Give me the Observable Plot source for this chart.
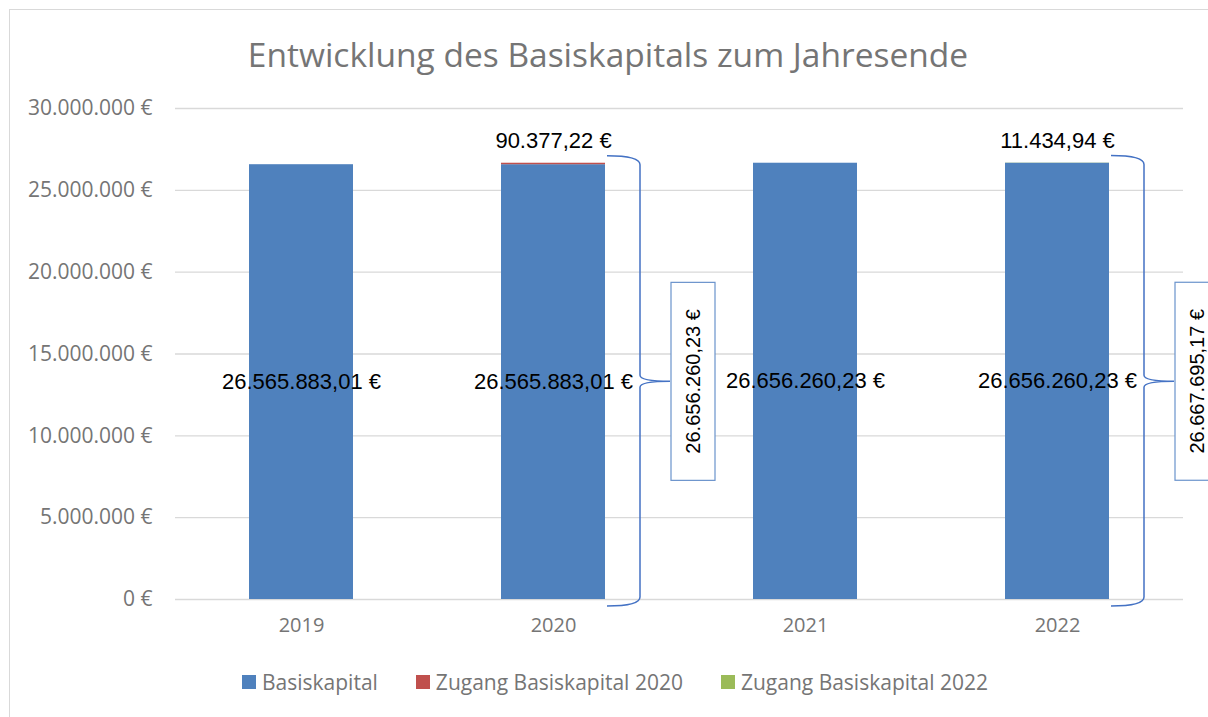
<!DOCTYPE html>
<html><head><meta charset="utf-8">
<script src="https://cdn.jsdelivr.net/npm/d3@7"></script>
<script src="https://cdn.jsdelivr.net/npm/@observablehq/plot@0.6"></script>
<style>
html,body{margin:0;padding:0;background:#fff;}
#wrap{position:relative;width:1208px;height:717px;overflow:hidden;font-family:"Open Sans",sans-serif;}
#frame{position:absolute;left:9px;top:9px;width:1400px;height:900px;border:1.5px solid #d9d9d9;box-sizing:border-box;}
#title{position:absolute;left:0;top:0;width:1208px;height:80px;display:flex;align-items:center;justify-content:center;padding-top:28px;padding-left:8px;box-sizing:border-box;font-size:33.5px;color:#757575;}
#chart{position:absolute;left:0;top:80px;}
#legend{position:absolute;left:0;top:640px;width:1208px;height:88px;display:flex;justify-content:center;align-items:flex-start;padding-top:28px;box-sizing:border-box;padding-left:22px;font-size:21px;color:#757575;}
.li{display:flex;align-items:center;margin:0 19px;}
.sw{width:14px;height:14px;margin-right:6px;}
</style></head>
<body><div id="wrap"><div id="frame"></div><div id="title"></div><div id="chart"></div><div id="legend"></div></div>
<script>
const title = "Entwicklung des Basiskapitals zum Jahresende";
const years = ["2019", "2020", "2021", "2022"];
const seriesNames = ["Basiskapital", "Zugang Basiskapital 2020", "Zugang Basiskapital 2022"];
const seriesColors = ["#4F81BD", "#C0504D", "#9BBB59"];
const basiskapital = [26565883.01, 26565883.01, 26656260.23, 26656260.23];
const zugang2020 = [0, 90377.22, 0, 0];
const zugang2022 = [0, 0, 0, 11434.94];
const yTicks = [0, 5000000, 10000000, 15000000, 20000000, 25000000, 30000000];
const braceYears = ["2020", "2022"];
const braceTotals = [26656260.23, 26667695.17];

const loc = d3.formatLocale({decimal: ",", thousands: ".", grouping: [3], currency: ["", " €"]});
const fInt = v => loc.format(",.0f")(v) + " €";
const f2 = v => loc.format(",.2f")(v) + " €";

document.getElementById("title").textContent = title;

const rows = [];
const seriesVals = [basiskapital, zugang2020, zugang2022];
years.forEach((yr, i) => {
  seriesNames.forEach((s, j) => rows.push({year: yr, series: s, value: seriesVals[j][i]}));
});
const baseRows = rows.filter(d => d.series === "Basiskapital");
const addRows = years.map((yr, i) => ({year: yr, add: zugang2020[i] + zugang2022[i], total: basiskapital[i] + zugang2020[i] + zugang2022[i]})).filter(d => d.add > 0);
const braces = braceYears.map((yr, i) => ({year: yr, total: braceTotals[i]}));

function braceMark(index, scales, values, dimensions) {
  const x = scales.x, y = scales.y;
  const bw = x.bandwidth ? x.bandwidth() : scales.scales.x.bandwidth;
  const g = d3.create("svg:g");
  for (const b of braces) {
    const x0 = x(b.year) + bw + 2, x1 = x0 + 33, x2 = x1 + 30;
    const y0 = y(b.total) - 7, y1 = y(0) + 7, ym = (y(b.total) + y(0)) / 2 + 0.5;
    const r = 9, r2 = 6;
    const p = `M${x0},${y0} Q${x1},${y0} ${x1},${y0 + r} L${x1},${ym - r2} Q${x1},${ym} ${x2},${ym} Q${x1},${ym} ${x1},${ym + r2} L${x1},${y1 - r} Q${x1},${y1} ${x0},${y1}`;
    g.append("path").attr("d", p).attr("fill", "none").attr("stroke", "#4472C4").attr("stroke-width", 1.5);
    const bx = x2 + 1, bwid = 44, bh = 198;
    g.append("rect").attr("x", bx).attr("y", ym - bh / 2).attr("width", bwid).attr("height", bh)
      .attr("fill", "#fff").attr("stroke", "#6a93cc").attr("stroke-width", 1.2);
    g.append("text").attr("transform", `translate(${bx + bwid / 2},${ym}) rotate(-90)`)
      .attr("text-anchor", "middle").attr("dominant-baseline", "central")
      .attr("font-family", "Liberation Sans, Arial, sans-serif").attr("font-size", 20).attr("fill", "#000")
      .text(f2(b.total));
  }
  return g.node();
}

const chart = Plot.plot({
  width: 1208,
  height: 560,
  marginLeft: 175,
  marginRight: 25,
  marginTop: 28,
  marginBottom: 41,
  style: {fontFamily: "Open Sans, sans-serif", fontSize: "20px", color: "#757575", background: "transparent", overflow: "visible"},
  x: {domain: years, paddingInner: 0.587, paddingOuter: 0.2935, label: null},
  y: {domain: [0, 30000000], label: null},
  color: {domain: seriesNames, range: seriesColors},
  marks: [
    Plot.ruleY(yTicks, {stroke: "#d9d9d9", strokeWidth: 1.3}),
    Plot.axisY({ticks: yTicks, tickFormat: fInt, tickSize: 0, tickPadding: 23, fontSize: 21, label: null}),
    Plot.axisX({tickSize: 0, tickPadding: 18, fontSize: 20, label: null}),
    Plot.barY(rows, {x: "year", y: "value", fill: "series", style: "filter: drop-shadow(1px 1px 1.5px rgba(0,0,0,0.3))"}),
    Plot.text(baseRows, {x: "year", y: d => d.value / 2, text: d => f2(d.value), fill: "#000", fontSize: 22, fontFamily: "Liberation Sans, Arial, sans-serif"}),
    Plot.text(addRows, {x: "year", y: "total", text: d => f2(d.add), dy: -22, fill: "#000", fontSize: 22, fontFamily: "Liberation Sans, Arial, sans-serif"}),
    braceMark
  ]
});
document.getElementById("chart").appendChild(chart);

const leg = document.getElementById("legend");
seriesNames.forEach((s, i) => {
  const d = document.createElement("div"); d.className = "li";
  const sw = document.createElement("div"); sw.className = "sw"; sw.style.background = seriesColors[i];
  const t = document.createElement("span"); t.textContent = s;
  d.appendChild(sw); d.appendChild(t); leg.appendChild(d);
});
</script></body></html>
